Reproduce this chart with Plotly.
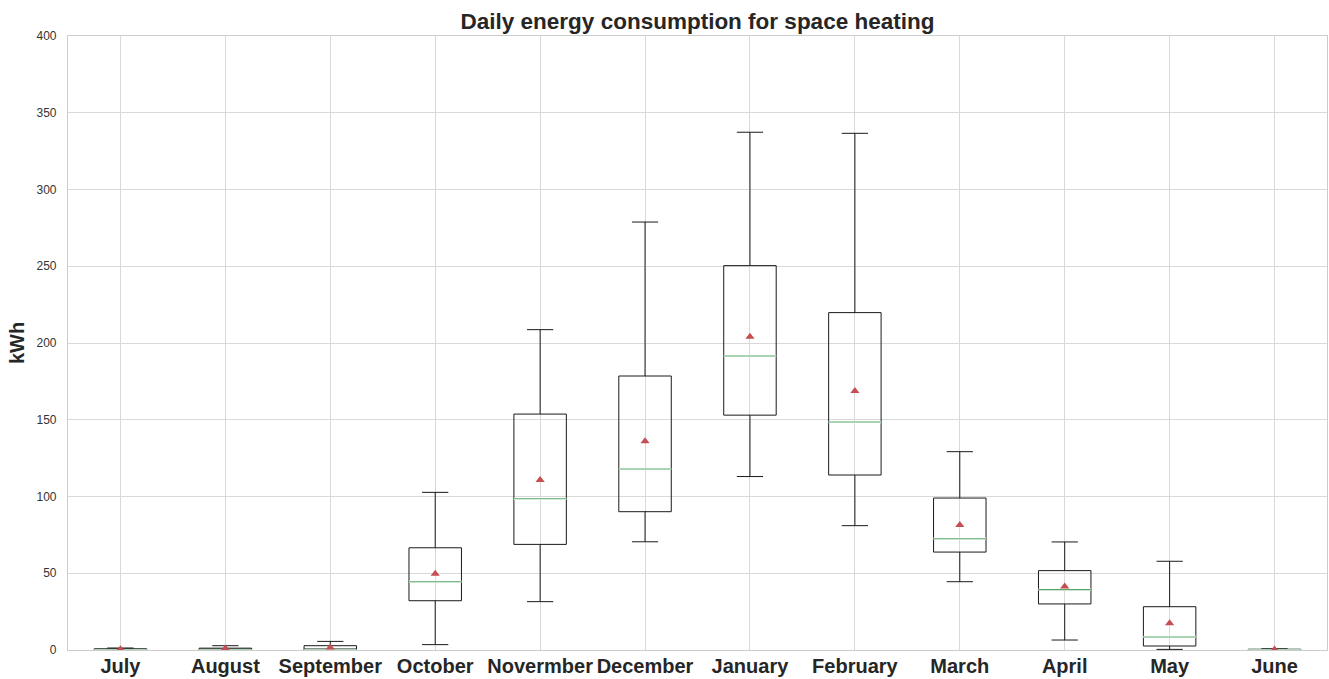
import plotly.graph_objects as go

months = ["July", "August", "September", "October", "Novermber", "December",
          "January", "February", "March", "April", "May", "June"]
lower_whisker = [0.0, 0.0, 0.0, 3.5, 31.5, 70.5, 113.0, 81.0, 44.5, 6.5, 0.4, 0.0]
q1 = [0.0, 0.0, 0.0, 32.1, 68.8, 90.1, 153.0, 114.0, 63.8, 30.0, 2.6, 0.0]
median = [0.0, 0.0, 0.0, 44.5, 98.5, 117.9, 191.5, 148.5, 72.5, 39.3, 8.5, 0.0]
q3 = [0.8, 1.2, 2.8, 66.6, 153.7, 178.5, 250.4, 219.8, 99.0, 51.7, 28.2, 0.5]
upper_whisker = [1.3, 2.8, 5.6, 102.7, 208.7, 278.8, 337.3, 336.6, 129.2, 70.4, 57.8, 0.8]
mean = [0.5, 1.0, 1.7, 49.7, 110.7, 136.0, 204.1, 168.7, 81.4, 41.3, 17.4, 0.3]

title_text = "Daily energy consumption for space heating"
y_label = "kWh"
y_ticks = [0, 50, 100, 150, 200, 250, 300, 350, 400]

fig = go.Figure()

# black boxes + whiskers
fig.add_trace(go.Box(
    x=months, q1=q1, median=median, q3=q3,
    lowerfence=lower_whisker, upperfence=upper_whisker,
    width=0.5, whiskerwidth=0.5, fillcolor="rgba(0,0,0,0)",
    line=dict(color="#1a1a1a", width=1), showlegend=False,
))

# white underlay at the median (hides the black median line)
fig.add_trace(go.Box(
    x=months, q1=median, median=median, q3=median,
    lowerfence=median, upperfence=median,
    width=0.5, whiskerwidth=0, fillcolor="rgba(0,0,0,0)",
    line=dict(color="white", width=2.2), showlegend=False, hoverinfo="skip",
))

# green median lines (zero-height boxes at the median)
fig.add_trace(go.Box(
    x=months, q1=median, median=median, q3=median,
    lowerfence=median, upperfence=median,
    width=0.5, whiskerwidth=0, fillcolor="rgba(0,0,0,0)",
    line=dict(color="#55A868", width=1.1), showlegend=False, hoverinfo="skip",
))

# means
fig.add_trace(go.Scatter(
    x=months, y=mean, mode="markers",
    marker=dict(symbol="triangle-up", size=8, color="#C44E52"),
    showlegend=False,
))

fig.update_layout(
    width=1329, height=679,
    margin=dict(l=68, r=2, t=36, b=29),
    paper_bgcolor="white", plot_bgcolor="white",
    boxmode="overlay",
    title=dict(text="<b>" + title_text + "</b>", x=(68 + 1327) / 2 / 1329, xanchor="center",
               y=1 - 21 / 679, yanchor="middle",
               font=dict(family="Liberation Sans, Arial, sans-serif", size=22.5, color="#262626")),
    font=dict(family="Liberation Sans, Arial, sans-serif", color="#262626"),
)

fig.update_xaxes(
    categoryorder="array", categoryarray=months,
    range=[-0.5, 11.5], automargin=False,
    showgrid=True, gridcolor="#d9d9d9", gridwidth=1,
    showline=True, linecolor="#cccccc", linewidth=1.2, mirror=True,
    ticks="", ticklen=0, ticklabelstandoff=-2,
    tickfont=dict(size=20, family="Liberation Sans, Arial, sans-serif", color="#262626"),
    tickprefix="<b>", ticksuffix="</b>",
    zeroline=False,
)
fig.update_yaxes(
    range=[0, 400], tickvals=y_ticks, automargin=False,
    showgrid=True, gridcolor="#d9d9d9", gridwidth=1,
    showline=True, linecolor="#cccccc", linewidth=1.2, mirror=True,
    ticks="", ticklabelstandoff=8,
    tickfont=dict(size=12, color="#333333"),
    title=dict(text="<b>" + y_label + "</b>", font=dict(size=20, color="#262626"), standoff=6),
    zeroline=False,
)

fig.write_html("out.html")
